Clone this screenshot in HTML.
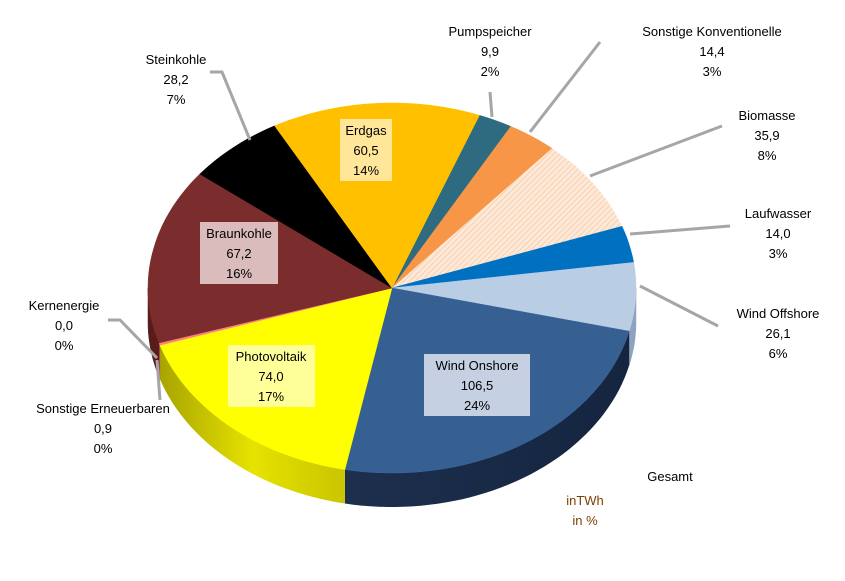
<!DOCTYPE html>
<html><head><meta charset="utf-8"><style>
body{margin:0;background:#fff;width:845px;height:581px;overflow:hidden}
svg{display:block}
text{font-family:"Liberation Sans",sans-serif;font-size:13px;fill:#000}
</style></head><body>
<svg id="s" width="845" height="581" viewBox="0 0 845 581">
<defs>
<pattern id="hatch" width="4" height="4" patternUnits="userSpaceOnUse" patternTransform="rotate(45)">
<rect width="4" height="4" fill="#fde9d9"/><line x1="0" y1="0" x2="0" y2="4" stroke="#f8c8a0" stroke-width="1.5"/></pattern>
<linearGradient id="pvside" x1="0" x2="1"><stop offset="0" stop-color="#a8a400"/><stop offset="0.5" stop-color="#e6e200"/><stop offset="1" stop-color="#c9c500"/></linearGradient>
<linearGradient id="wside" x1="0" x2="1"><stop offset="0" stop-color="#1c2f4d"/><stop offset="1" stop-color="#152540"/></linearGradient>
</defs>
<g id="pie"></g>
<g stroke="#a6a6a6" stroke-width="3" fill="none">
<polyline points="210,72 222,72 250,140"/>
<polyline points="490,92 492,117"/>
<polyline points="600,42 530,132"/>
<polyline points="722,126 590,176"/>
<polyline points="730,226 630,234"/>
<polyline points="718,326 640,286"/>
<polyline points="108,320 120,320 157,358"/>
<polyline points="157,360 160,400"/>
</g>
<g text-anchor="middle">
<rect x="340" y="119" width="52" height="62" fill="#ffe699"/>
<rect x="200" y="222" width="78" height="62" fill="#dabcbc"/>
<rect x="228" y="345" width="87" height="62" fill="#ffff99"/>
<rect x="424" y="354" width="106" height="62" fill="#c5d0e2"/>
<text x="176" y="64">Steinkohle</text><text x="176" y="84">28,2</text><text x="176" y="104">7%</text>
<text x="490" y="36">Pumpspeicher</text><text x="490" y="56">9,9</text><text x="490" y="76">2%</text>
<text x="712" y="36">Sonstige Konventionelle</text><text x="712" y="56">14,4</text><text x="712" y="76">3%</text>
<text x="767" y="120">Biomasse</text><text x="767" y="140">35,9</text><text x="767" y="160">8%</text>
<text x="778" y="218">Laufwasser</text><text x="778" y="238">14,0</text><text x="778" y="258">3%</text>
<text x="778" y="318">Wind Offshore</text><text x="778" y="338">26,1</text><text x="778" y="358">6%</text>
<text x="64" y="310">Kernenergie</text><text x="64" y="330">0,0</text><text x="64" y="350">0%</text>
<text x="103" y="413">Sonstige Erneuerbaren</text><text x="103" y="433">0,9</text><text x="103" y="453">0%</text>
<text x="366" y="135">Erdgas</text><text x="366" y="155">60,5</text><text x="366" y="175">14%</text>
<text x="239" y="238">Braunkohle</text><text x="239" y="258">67,2</text><text x="239" y="278">16%</text>
<text x="271" y="361">Photovoltaik</text><text x="271" y="381">74,0</text><text x="271" y="401">17%</text>
<text x="477" y="370">Wind Onshore</text><text x="477" y="390">106,5</text><text x="477" y="410">24%</text>
<text x="670" y="481">Gesamt</text>
<text x="585" y="505" style="fill:#7f3f00">inTWh</text><text x="585" y="525" style="fill:#7f3f00">in %</text>
</g>
</svg>
<script>
var cx=392,cy=288,rx=244,ry=185,d=34;
var sl=[[9.9,"#2e6b80","#1f4a59"],[14.4,"#f79646","#b86a2a"],[35.9,"url(#hatch)","#e0c0a8"],[14,"#0070c0","#004f88"],[26.1,"#b9cde5","#8ea3bd"],[106.5,"#376092","url(#wside)"],[74,"#ffff00","url(#pvside)"],[0.9,"#ff8080","#c05050"],[0,"#ff0000","#a00"],[67.2,"#7b2c2c","#571d1d"],[28.2,"#000000","#000"],[60.5,"#ffc000","#b88a00"]];
var tot=0;sl.forEach(function(s){tot+=s[0]});
function P(t,dy){t=t*Math.PI/180;return [cx+rx*Math.sin(t),cy-ry*Math.cos(t)+(dy||0)];}
function arc(a,b,dy){var s="";var n=Math.max(2,Math.ceil(Math.abs(b-a)/2));for(var i=0;i<=n;i++){var p=P(a+(b-a)*i/n,dy);s+=(i?"L":"")+p[0].toFixed(1)+","+p[1].toFixed(1);}return s;}
var g=document.getElementById("pie"),a=21,NS="http://www.w3.org/2000/svg";
function add(dd,f){var e=document.createElementNS(NS,"path");e.setAttribute("d",dd);e.setAttribute("fill",f);e.setAttribute("stroke",f.indexOf("url")<0?f:"none");e.setAttribute("stroke-width","0.5");g.appendChild(e);}
var tops=[];
sl.forEach(function(s){var b=a+s[0]/tot*360;
 var lo=Math.max(a,90),hi=Math.min(b,270);
 if(hi>lo){add("M"+arc(lo,hi)+"L"+arc(hi,lo,d)+"Z",s[2]);}
 if(b>a) tops.push(["M"+cx+","+cy+"L"+arc(a,b)+"Z",s[1]]);
 a=b;});
tops.forEach(function(t){add(t[0],t[1]);});
</script>
</body></html>
